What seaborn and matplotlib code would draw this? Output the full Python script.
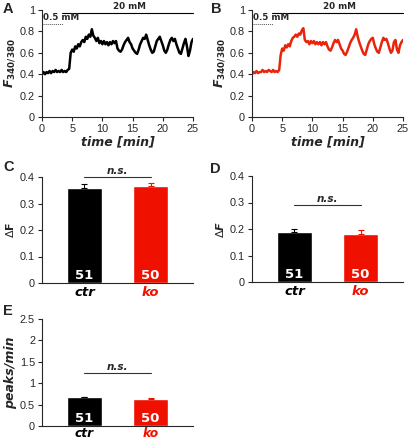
import numpy as np
import pandas as pd
import matplotlib
matplotlib.use("Agg")
import matplotlib.pyplot as plt
import seaborn as sns

# ---------------- data ----------------
trace_step_min = 0.25
trace_ctr = [0.40, 0.42, 0.40, 0.42, 0.41, 0.43, 0.41, 0.43, 0.42, 0.44,
             0.42, 0.43, 0.42, 0.44, 0.42, 0.43, 0.42, 0.44, 0.45,
             0.60, 0.63, 0.61, 0.66, 0.64, 0.68, 0.66, 0.70, 0.72, 0.70,
             0.75, 0.73, 0.77, 0.75, 0.82, 0.76, 0.74, 0.71, 0.74, 0.69,
             0.71, 0.68, 0.71, 0.68, 0.70, 0.67, 0.70, 0.68, 0.71, 0.69,
             0.71, 0.64, 0.62, 0.61, 0.63, 0.67, 0.70, 0.72, 0.74, 0.70,
             0.68, 0.64, 0.62, 0.60, 0.59, 0.63, 0.68, 0.71, 0.74, 0.73,
             0.77, 0.72, 0.67, 0.63, 0.60, 0.61, 0.66, 0.71, 0.73, 0.75,
             0.71, 0.67, 0.62, 0.60, 0.63, 0.68, 0.72, 0.74, 0.71, 0.73,
             0.68, 0.64, 0.60, 0.59, 0.64, 0.69, 0.73, 0.66, 0.57, 0.62,
             0.70, 0.73]
trace_ko = [0.40, 0.42, 0.41, 0.43, 0.41, 0.42, 0.42, 0.44, 0.42, 0.43,
            0.42, 0.44, 0.43, 0.42, 0.44, 0.42, 0.43, 0.42, 0.44,
            0.58, 0.64, 0.62, 0.67, 0.65, 0.68, 0.66, 0.71, 0.74, 0.75,
            0.77, 0.75, 0.78, 0.77, 0.81, 0.83, 0.72, 0.70, 0.71, 0.68,
            0.71, 0.69, 0.71, 0.68, 0.70, 0.68, 0.70, 0.67, 0.70, 0.68,
            0.70, 0.66, 0.63, 0.62, 0.65, 0.69, 0.72, 0.70, 0.72, 0.68,
            0.64, 0.62, 0.59, 0.58, 0.61, 0.65, 0.69, 0.72, 0.74, 0.77,
            0.82, 0.75, 0.70, 0.66, 0.62, 0.59, 0.58, 0.63, 0.68, 0.71,
            0.73, 0.74, 0.68, 0.64, 0.61, 0.60, 0.65, 0.70, 0.74, 0.72,
            0.73, 0.69, 0.64, 0.60, 0.62, 0.70, 0.72, 0.63, 0.60, 0.67,
            0.70, 0.72]

groups = ["ctr", "ko"]
n_cells = ["51", "50"]
dF_C = [0.357, 0.366]
dF_C_err = [0.015, 0.012]
dF_D = [0.190, 0.180]
dF_D_err = [0.011, 0.018]
peaks = [0.670, 0.640]
peaks_err = [0.008, 0.008]

trace_xticks = [0, 5, 10, 15, 20, 25]
trace_yticks = [0, 0.2, 0.4, 0.6, 0.8, 1.0]
trace_yticklabels = ["0", "0.2", "0.4", "0.6", "0.8", "1"]
dF_yticks = [0, 0.1, 0.2, 0.3, 0.4]
dF_yticklabels = ["0", "0.1", "0.2", "0.3", "0.4"]
pk_yticks = [0, 0.5, 1.0, 1.5, 2.0, 2.5]
pk_yticklabels = ["0", "0.5", "1", "1.5", "2", "2.5"]

low_label, high_label = "0.5 mM", "20 mM"
low_end, high_start = 3.5, 3.3

# ---------------- style ----------------
sns.set_style("ticks")
plt.rcParams['font.family'] = ['Liberation Sans', 'DejaVu Sans']
plt.rcParams['axes.linewidth'] = 0.8
plt.rcParams['xtick.major.width'] = 0.8
plt.rcParams['ytick.major.width'] = 0.8
plt.rcParams['xtick.major.size'] = 3
plt.rcParams['ytick.major.size'] = 3
plt.rcParams['xtick.labelsize'] = 7.8
plt.rcParams['ytick.labelsize'] = 7.8
plt.rcParams['xtick.major.pad'] = 2
plt.rcParams['ytick.major.pad'] = 2

colors = {"ctr": "#000000", "ko": "#f01000"}
trace_colors = {"ctr": "#000000", "ko": "#e8250c"}
W, H = 408, 440
fig = plt.figure(figsize=(W / 100, H / 100), dpi=100)


def ax_px(left, top, right, bottom):
    return fig.add_axes([left / W, 1 - bottom / H, (right - left) / W, (bottom - top) / H])


def trace_panel(ax, vals, color):
    df = pd.DataFrame({"t": np.arange(len(vals)) * trace_step_min, "F": vals})
    sns.lineplot(data=df, x="t", y="F", ax=ax, color=color, lw=1.8)
    ax.set_xlim(0, 25)
    ax.set_ylim(0, 1)
    ax.set_xticks(trace_xticks)
    ax.set_yticks(trace_yticks)
    ax.set_yticklabels(trace_yticklabels)
    sns.despine(ax=ax)
    ax.set_xlabel("time [min]", fontsize=9, fontweight="bold", style="italic",
                  family="DejaVu Sans", labelpad=1)
    ax.set_ylabel(r"$\mathbfit{F}_{\mathbf{340/380}}$", fontsize=9, labelpad=2)
    ax.plot([0, low_end], [0.866, 0.866], ls=(0, (1, 1)), color="#555555", lw=0.7, clip_on=False)
    ax.plot([high_start, 25], [0.97, 0.97], color="black", lw=0.8, clip_on=False)
    ax.text(0.2, 0.885, low_label, fontsize=6.3, fontweight="bold", family="DejaVu Sans",
            va="bottom", ha="left")
    ax.text(14.4, 0.995, high_label, fontsize=6.3, fontweight="bold", family="DejaVu Sans",
            va="bottom", ha="center")


def bar_panel(ax, vals, errs, yticks, yticklabels, ylabel, ns_y, ylabel_math=False,
              cat_size=9.5, cat_pad=2):
    df = pd.DataFrame({"group": groups, "val": vals})
    sns.barplot(data=df, x="group", y="val", hue="group", palette=colors, ax=ax,
                width=0.52, legend=False, errorbar=None, order=groups, saturation=1)
    for i, g in enumerate(groups):
        ax.errorbar(i, vals[i], yerr=[[0], [errs[i]]], color=colors[g], capsize=2.5,
                    elinewidth=0.8, capthick=0.8, fmt="none")
        ax.text(i, yticks[-1] * 0.012, n_cells[i], color="white", fontsize=9.5,
                fontweight="bold", family="DejaVu Sans", ha="center", va="bottom")
    ax.set_xlim(-0.64, 1.64)
    ax.set_ylim(0, yticks[-1])
    ax.set_yticks(yticks)
    ax.set_yticklabels(yticklabels)
    ax.set_xticks([0, 1])
    ax.set_xticklabels(groups)
    for lab, g in zip(ax.get_xticklabels(), groups):
        lab.set_color(colors[g])
        lab.set_fontweight("bold")
        lab.set_fontstyle("italic")
        lab.set_fontsize(cat_size)
        lab.set_family("DejaVu Sans")
    ax.tick_params(axis="x", length=0, pad=cat_pad)
    sns.despine(ax=ax)
    ax.set_xlabel("")
    if ylabel_math:
        ax.set_ylabel(ylabel, fontsize=8, labelpad=3)
    else:
        ax.set_ylabel(ylabel, fontsize=9, fontweight="bold", style="italic",
                      family="DejaVu Sans", labelpad=2)
    ax.plot([0, 1], [ns_y, ns_y], color="#333333", lw=0.8, clip_on=False)
    ax.text(0.5, ns_y + yticks[-1] * 0.012, "n.s.", fontsize=7.5, fontweight="bold",
            style="italic", family="DejaVu Sans", ha="center", va="bottom")


axA = ax_px(42, 10, 193, 117)
axB = ax_px(252, 10, 403, 117)
axC = ax_px(42, 177, 193, 283)
axD = ax_px(252, 176, 403, 282)
axE = ax_px(42, 319, 193, 426)

trace_panel(axA, trace_ctr, trace_colors["ctr"])
trace_panel(axB, trace_ko, trace_colors["ko"])
bar_panel(axC, dF_C, dF_C_err, dF_yticks, dF_yticklabels, r"$\Delta\mathbf{F}$", 0.4, True)
bar_panel(axD, dF_D, dF_D_err, dF_yticks, dF_yticklabels, r"$\Delta\mathbfit{F}$", 0.29, True)
bar_panel(axE, peaks, peaks_err, pk_yticks, pk_yticklabels, "peaks/min", 1.23,
          cat_size=8.8, cat_pad=0.5)

for letter, (x, y) in {"A": (3, 2), "B": (211, 2), "C": (3, 160), "D": (210, 162), "E": (3, 304)}.items():
    fig.text(x / W, 1 - y / H, letter, fontsize=10.5, fontweight="bold", va="top", ha="left")

fig.savefig("out.png", dpi=100)
